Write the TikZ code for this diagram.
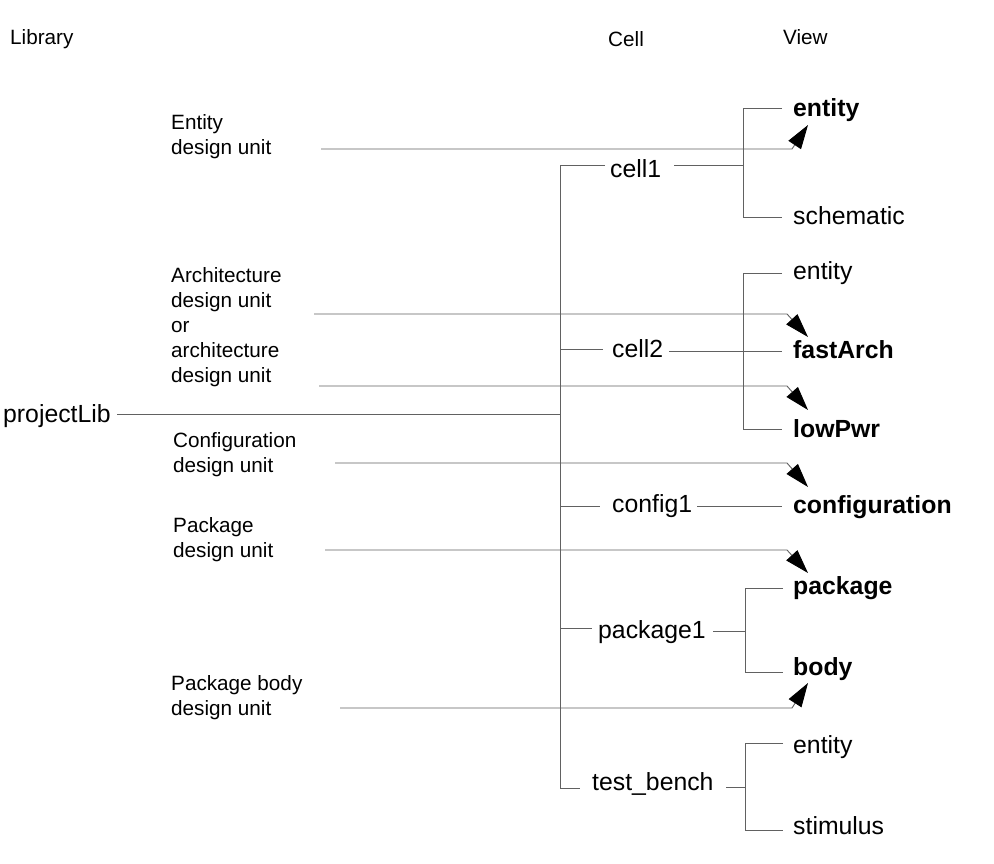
\documentclass[tikz,border=0pt]{standalone}
\usepackage{fontspec}
\setmainfont{Liberation Sans}
\usetikzlibrary{arrows.meta}
\tikzset{
  big/.style={anchor=base west,inner sep=0pt,font=\fontsize{24.8}{28}\selectfont},
  bigb/.style={big,font=\fontsize{24.8}{28}\selectfont\bfseries},
  small/.style={anchor=base west,inner sep=0pt,font=\fontsize{20.7}{25}\selectfont},
  ln/.style={draw=black!62,line width=0.9pt},
  feed/.style={ln,-{Triangle[length=24pt,width=15pt,color=black]}}
}
\begin{document}
\begin{tikzpicture}[x=1pt,y=-1pt]
\useasboundingbox (0,0) rectangle (994,863);
% headers
\node[small] (hlib) at (10,44) {Library};
\node[small] (hcell) at (608,46) {Cell};
\node[small] (hview) at (783,44) {View};
% left labels
\node[small] (lent) at (171,129) {Entity};
\node[small] (lent2) at (171,154) {design unit};
\node[small] (larch1) at (171,282) {Architecture};
\node[small] (larch2) at (171,307) {design unit};
\node[small] (larch3) at (171,332) {or};
\node[small] (larch4) at (171,357) {architecture};
\node[small] (larch5) at (171,382) {design unit};
\node[small] (lcfg1) at (173,447) {Configuration};
\node[small] (lcfg2) at (173,472) {design unit};
\node[small] (lpkg1) at (173,532) {Package};
\node[small] (lpkg2) at (173,557) {design unit};
\node[small] (lbody1) at (171,690) {Package body};
\node[small] (lbody2) at (171,715) {design unit};
% library
\node[big] (plib) at (3,422) {projectLib};
% cells
\node[big] (c1) at (610,177) {cell1};
\node[big] (c2) at (612,357) {cell2};
\node[big] (c3) at (612,512) {config1};
\node[big] (c4) at (598,638) {package1};
\node[big] (c5) at (592,790) {test\_bench};
% views
\node[bigb] (v1) at (793,116) {entity};
\node[big] (v2) at (793,224) {schematic};
\node[big] (v3) at (793,279) {entity};
\node[bigb] (v4) at (793,358) {fastArch};
\node[bigb] (v5) at (793,437) {lowPwr};
\node[bigb] (v6) at (793,513) {configuration};
\node[bigb] (v7) at (793,594) {package};
\node[bigb] (v8) at (793,675) {body};
\node[big] (v9) at (793,753) {entity};
\node[big] (v10) at (793,834) {stimulus};
% tree lines
\draw[ln] (117,414) -- (560,414);
\draw[ln] (605,165) -- (560,165) -- (560,788) -- (580,788);
\draw[ln] (560,349) -- (603,349);
\draw[ln] (560,506) -- (600,506);
\draw[ln] (560,628) -- (592,628);
\draw[ln] (674,165) -- (743,165);
\draw[ln] (782,108) -- (743,108) -- (743,217) -- (782,217);
\draw[ln] (669,351) -- (782,351);
\draw[ln] (782,273) -- (743,273) -- (743,429) -- (782,429);
\draw[ln] (697,506) -- (782,506);
\draw[ln] (713,631) -- (745,631);
\draw[ln] (783,588) -- (745,588) -- (745,672) -- (783,672);
\draw[ln] (726,787) -- (745,787);
\draw[ln] (783,743) -- (745,743) -- (745,830) -- (783,830);
% design unit arrows
\coordinate (s1) at (321,149); \coordinate (k1) at (792,149); \coordinate (t1) at (808,125);
\coordinate (s2) at (314,314); \coordinate (k2) at (787,314); \coordinate (t2) at (808,337);
\coordinate (s3) at (319,386); \coordinate (k3) at (787,386); \coordinate (t3) at (808,410);
\coordinate (s4) at (335,463); \coordinate (k4) at (787,463); \coordinate (t4) at (808,487);
\coordinate (s5) at (325,550); \coordinate (k5) at (787,550); \coordinate (t5) at (808,573);
\coordinate (s6) at (340,708); \coordinate (k6) at (792,708); \coordinate (t6) at (808,683);
\draw[feed] (s1) -- (k1) -- (t1);
\draw[feed] (s2) -- (k2) -- (t2);
\draw[feed] (s3) -- (k3) -- (t3);
\draw[feed] (s4) -- (k4) -- (t4);
\draw[feed] (s5) -- (k5) -- (t5);
\draw[feed] (s6) -- (k6) -- (t6);
\end{tikzpicture}
\end{document}
